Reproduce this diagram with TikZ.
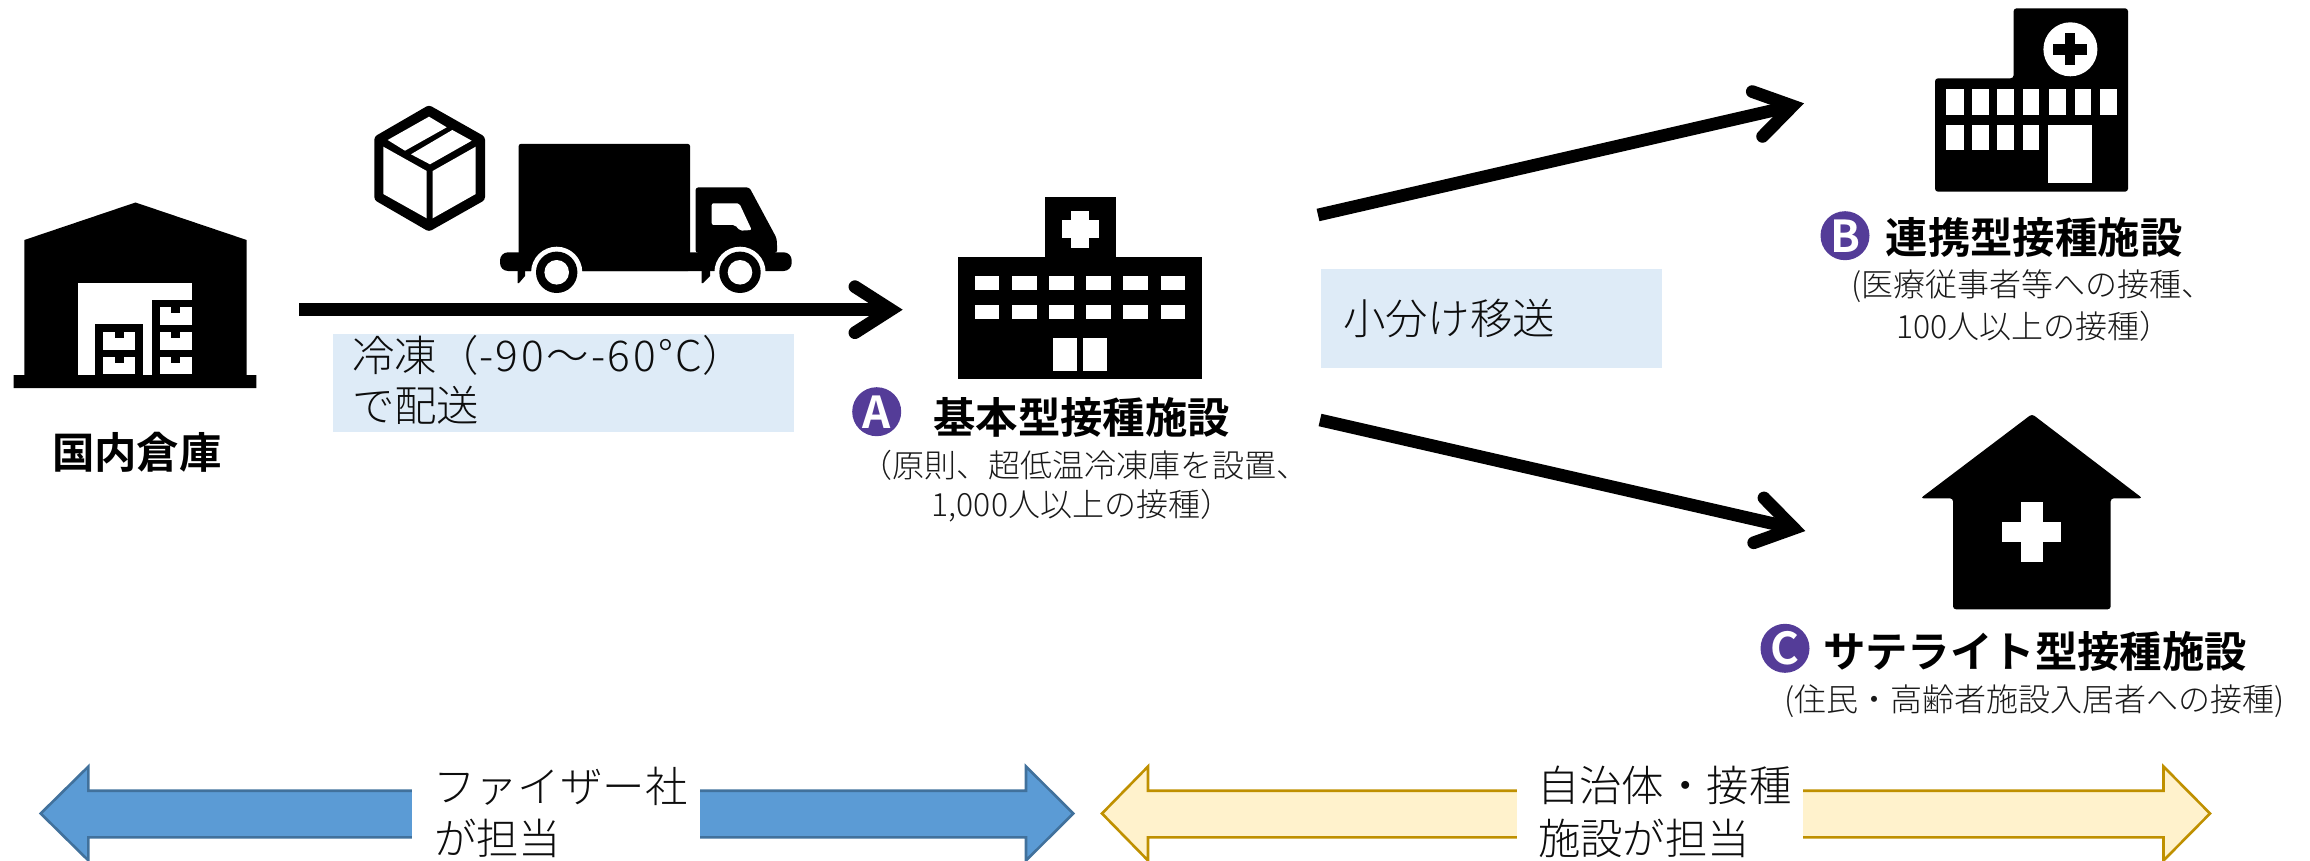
\documentclass[tikz,border=0pt]{standalone}
\usepackage{fontspec}
\usetikzlibrary{arrows.meta}
\setmainfont{Noto Sans CJK JP}
\newfontfamily\jplight{Noto Sans CJK JP Light}
\newfontfamily\jpbold{Noto Sans CJK JP Bold}
\definecolor{boxblue}{HTML}{DEEBF7}
\definecolor{purp}{HTML}{543C98}
\definecolor{bluefill}{HTML}{5B9BD5}
\definecolor{bluedge}{HTML}{41719C}
\definecolor{yelfill}{HTML}{FFF2CC}
\definecolor{yeledge}{HTML}{BF9000}
\tikzset{
  x=1pt,y=-1pt,
  lbl/.style={anchor=west,inner sep=0pt,outer sep=0pt},
  big/.style={lbl,font=\jpbold\fontsize{42.4}{50}\selectfont},
  sub/.style={lbl,font=\jplight\fontsize{32}{38}\selectfont,text=black!90},
  note/.style={lbl,font=\jplight\fontsize{42.4}{50}\selectfont,text=black!95},
  badge/.style={circle,fill=purp,text=white,minimum size=49pt,inner sep=0pt,font=\jpbold\fontsize{44}{44}\selectfont},
  flow/.style={line width=12.7pt,-{Straight Barb[length=36pt,width=46pt,line cap=round]}},
  ink/.style={fill=black,draw=none},
  paper/.style={fill=white,draw=none},
  band/.style={line width=2.6pt,line join=miter},
  cover/.style={fill=white,draw=none,inner sep=0pt,minimum height=101pt,anchor=north west},
  tint/.style={fill=boxblue,draw=none,inner sep=0pt,anchor=north west}
}
\begin{document}
\begin{tikzpicture}
\useasboundingbox (0,0) rectangle (2310,861);
% warehouse
\fill[ink] (135.5,202.5) -- (246.6,240) -- (246.6,375) -- (256.4,375) -- (256.4,388) -- (13.5,388) -- (13.5,375) -- (24.4,375) -- (24.4,240) -- cycle;
\fill[paper] (78.3,283.3) rectangle (191.7,375);
\fill[ink] (151.7,300) rectangle (191.7,375);
\fill[ink] (95,324.3) rectangle (143.3,375);
\foreach \xa/\xb/\ya/\yb in {103.3/135/332.3/350, 103.3/135/357.3/374, 160/191.7/307.3/325, 160/191.7/332.3/350, 160/191.7/357.3/374}{
  \fill[paper] (\xa,\ya) rectangle (\xb,\yb);
  \fill[ink] ({(\xa+\xb)/2-4.5},\ya) rectangle ({(\xa+\xb)/2+4.5},{\ya+6});
}
\node[lbl,font=\jpbold\fontsize{42.4}{50}\selectfont] (wh) at (52,452.7) {国内倉庫};
% parcel
\fill[ink,rounded corners=3pt] (429,105) -- (485,136.7) -- (485,200) -- (429,231.7) -- (374.3,200) -- (374.3,136.7) -- cycle;
\fill[paper] (383.3,146.7) -- (426.7,171) -- (426.7,218.3) -- (383.3,194) -- cycle;
\fill[paper] (432.7,171) -- (475.7,146.7) -- (475.7,194) -- (432.7,218.3) -- cycle;
\fill[paper] (387.7,140) -- (429,116.7) -- (446.7,127.3) -- (405,150.7) -- cycle;
\fill[paper] (411,154.3) -- (452.3,130) -- (471.7,140.7) -- (430,164.3) -- cycle;
% truck
\fill[ink,rounded corners=2pt] (518.7,144) rectangle (690,271);
\fill[ink,rounded corners=8pt] (500,252.3) rectangle (791.7,271);
\fill[ink,rounded corners=3pt] (695.5,187.3) -- (749.3,187.3) -- (776.7,238.3) -- (777.3,253) -- (695.5,253) -- cycle;
\fill[ink] (690,252.7) rectangle (720,271);
\fill[paper,rounded corners=2pt] (711.7,203.3) -- (739.3,203.3) -- (751.7,230) -- (740,230.7) -- (735,225) -- (711.7,225) -- cycle;
\fill[ink] (517.7,271) -- (525,271) -- (525,276) -- (519,283) -- (517.7,283) -- cycle;
\fill[ink] (701.7,271) -- (710,271) -- (710,276) -- (703,283) -- (701.7,283) -- cycle;
\foreach \c in {556.7,740}{
  \fill[paper] (\c,272.3) circle (25.6);
  \fill[ink] (\c,272.3) circle (20.7);
  \fill[paper] (\c,272.3) circle (12.3);
}
% hospital A
\fill[ink] (1045,196.7) rectangle (1115.7,258);
\fill[ink] (958.3,257.3) rectangle (1201.7,379);
\fill[paper] (1061.5,220.3) rectangle (1098.5,238.3);
\fill[paper] (1071,210.8) rectangle (1089,247.8);
\foreach \xa/\xb in {975/999.3,1012.3/1036.7,1049/1074,1086/1111,1123.3/1148.3,1160.7/1185}{
  \fill[paper] (\xa,276) rectangle (\xb,290);
  \fill[paper] (\xa,305) rectangle (\xb,319);
}
\fill[paper] (1053.3,338.3) rectangle (1076.7,371);
\fill[paper] (1083.3,338.3) rectangle (1107.3,371);
\node[badge] (ba) at (876.7,411.7) {A};
\node[big] (ta) at (933.3,417.5) {基本型接種施設};
\node[sub] (sa1) at (860.5,465) {（原則、超低温冷凍庫を設置、};
\node[sub] (sa2) at (931.7,505.5) {1,000人以上の接種）};
% hospital B
\fill[ink,rounded corners=3pt] (1935,191.7) -- (1935,78.3) -- (2013.6,78.3) -- (2013.6,8.3) -- (2128,8.3) -- (2128,191.7) -- cycle;
\fill[paper] (2070.4,49.3) circle (27);
\fill[ink] (2053.4,43.8) rectangle (2087.4,54.8);
\fill[ink] (2065.4,33.3) rectangle (2075.4,65.3);
\foreach \xa/\xb in {1946.4/1963.6,1972/1988.6,1997/2014,2023/2039,2049/2066,2075/2091,2100/2116.8}{
  \fill[paper] (\xa,89.3) rectangle (\xb,115);
}
\foreach \xa/\xb in {1946.4/1963.6,1972/1988.6,1997/2014,2023/2039}{
  \fill[paper] (\xa,125) rectangle (\xb,150);
}
\fill[paper] (2048,125) rectangle (2092,182.7);
\node[badge] (bb) at (1845,235.7) {B};
\node[big] (tb) at (1885.7,237) {連携型接種施設};
\node[sub] (sb1) at (1851.8,286.5) {(医療従事者等への接種、};
\node[sub] (sb2) at (1896,326) {100人以上の接種）};
% clinic C
\fill[ink,rounded corners=3pt] (2032,414) -- (2142.5,498.3) -- (2110.7,498.3) -- (2110.7,609.3) -- (1953,609.3) -- (1953,498.3) -- (1920.5,498.3) -- cycle;
\fill[paper] (2001.8,521.7) rectangle (2061.4,541.7);
\fill[paper] (2020.7,501.7) rectangle (2042.9,562.3);
\node[badge] (bc) at (1785,648.3) {C};
\node[big] (tc) at (1823,651.7) {サテライト型接種施設};
\node[sub] (sc) at (1784,701) {(住民・高齢者施設入居者への接種)};
% note boxes
\node[tint,minimum width=461pt,minimum height=98.4pt] (n1box) at (332.8,333.3) {};
\node[note] (n1a) at (352,355) {冷凍（{\addfontfeature{LetterSpace=6}-90～-60°C}）};
\node[note] (n1b) at (352,405) {で配送};
\node[tint,minimum width=341pt,minimum height=98.7pt] (n2box) at (1321,269) {};
\node[note] (n2) at (1343,318) {小分け移送};
% flows
\coordinate (f1a) at (299,309.7);
\coordinate (f1b) at (902.7,309.7);
\coordinate (f2a) at (1318,215);
\coordinate (f2b) at (1804,103.3);
\coordinate (f3a) at (1320,420);
\coordinate (f3b) at (1805.4,531);
\draw[flow] (f1a) -- (f1b);
\draw[flow] (f2a) -- (f2b);
\draw[flow] (f3a) -- (f3b);
% bands
\draw[band,fill=bluefill,draw=bluedge] (40.7,813.5) -- (88.4,766.5) -- (88.4,790.7) -- (1026,790.7) -- (1026,766.5) -- (1073.3,813.5) -- (1026,860.5) -- (1026,837.3) -- (88.4,837.3) -- (88.4,860.5) -- cycle;
\draw[band,fill=yelfill,draw=yeledge] (1102,813.5) -- (1148,766.5) -- (1148,790.7) -- (2163.5,790.7) -- (2163.5,766.5) -- (2210,813.5) -- (2163.5,860.5) -- (2163.5,837.3) -- (1148,837.3) -- (1148,860.5) -- cycle;
\node[cover,minimum width=288pt] (c1) at (412,760) {};
\node[cover,minimum width=285.4pt] (c2) at (1517,760) {};
\node[note] (t1a) at (433,786.7) {ファイザー社};
\node[note] (t1b) at (434,838) {が担当};
\node[note] (t2a) at (1537,785) {自治体・接種};
\node[note] (t2b) at (1538,838) {施設が担当};
\end{tikzpicture}
\end{document}
